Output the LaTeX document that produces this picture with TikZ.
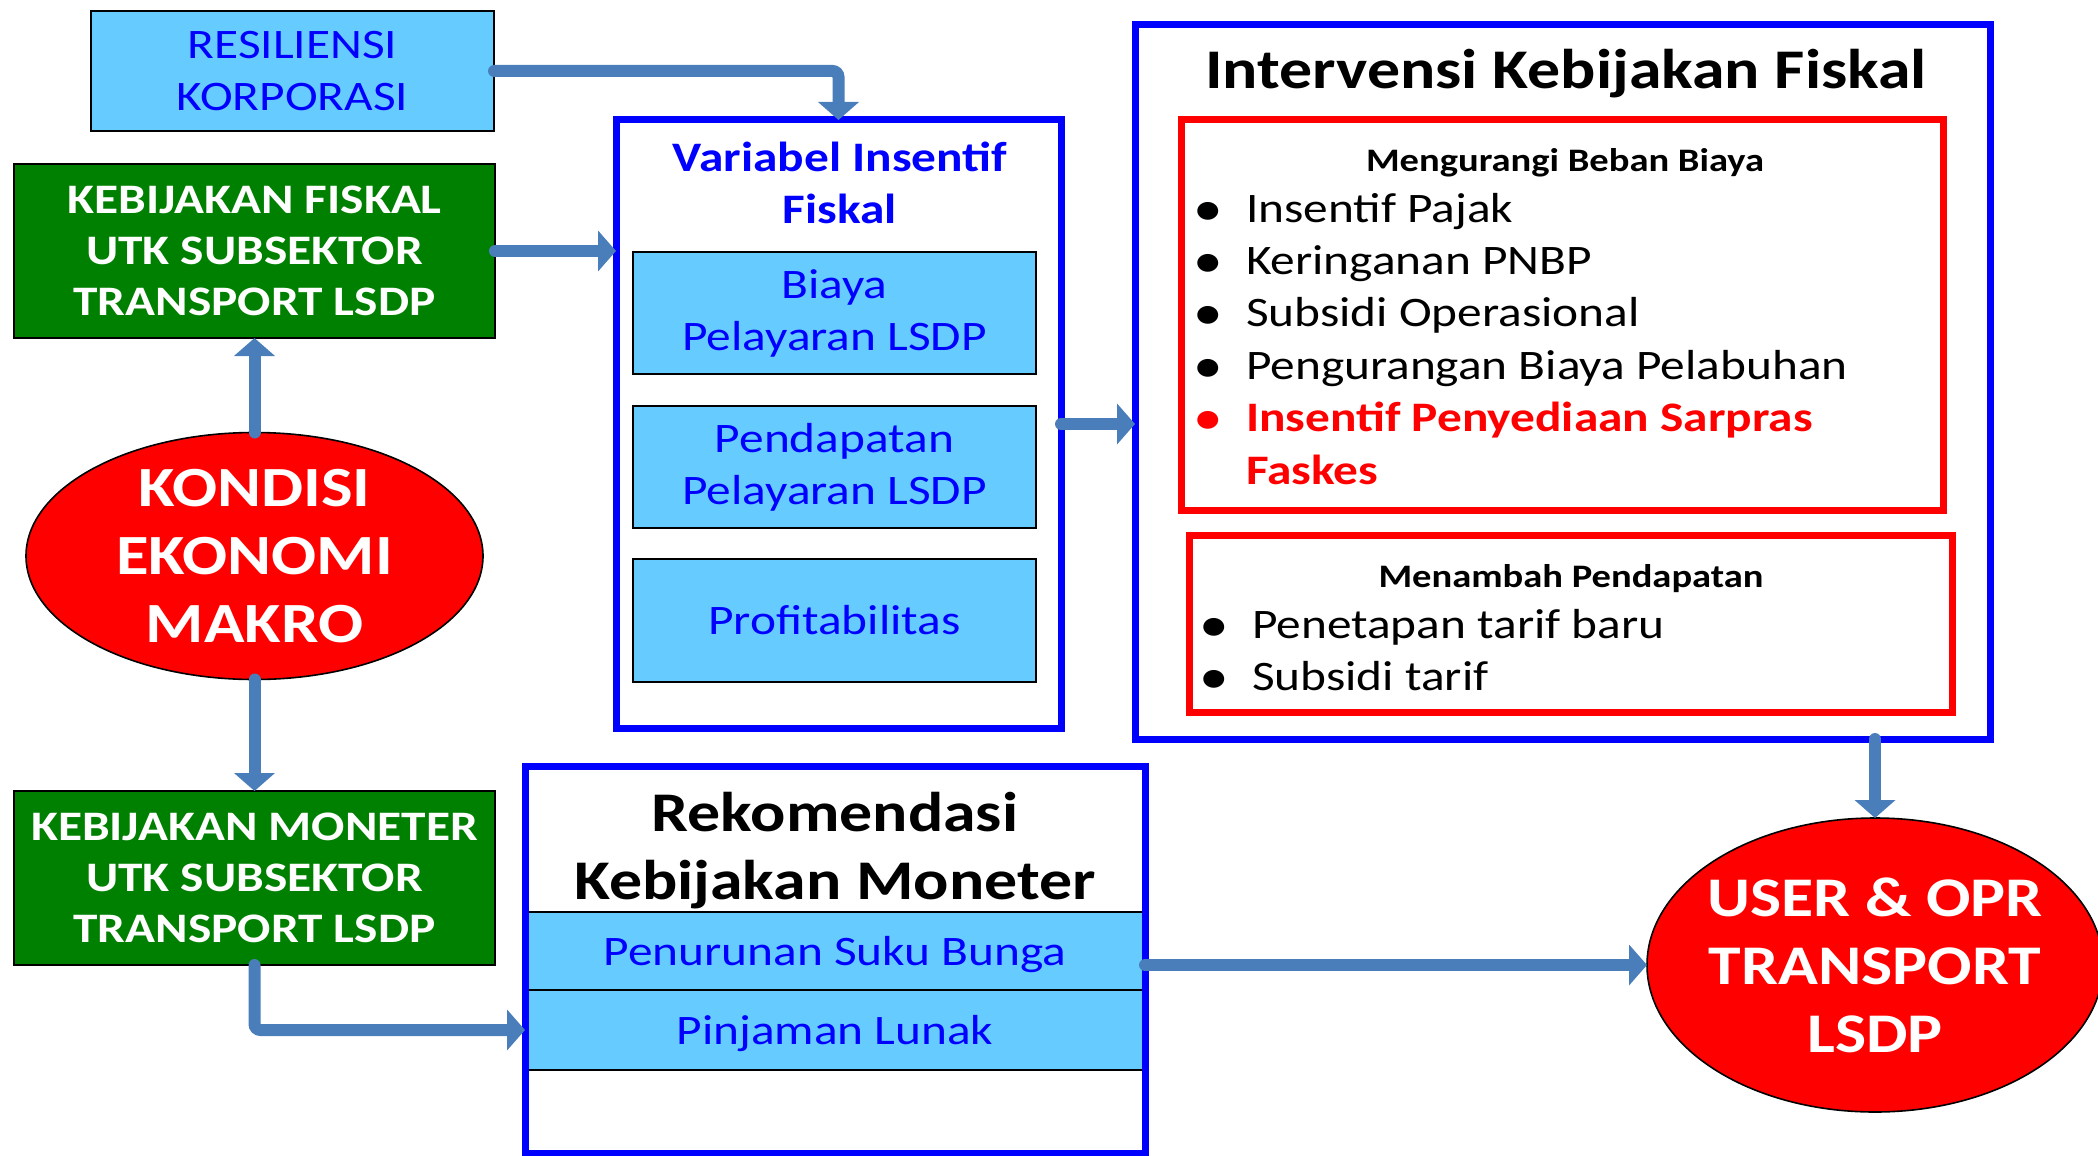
\documentclass[tikz,border=0pt]{standalone}
\usepackage{xcolor}
\usepackage{tikz}
\usepackage{fontspec}
\setmainfont{Carlito}[FakeStretch=1.175]
\usetikzlibrary{shapes.geometric, arrows.meta, positioning, calc}

\definecolor{skyfill}{RGB}{102,204,255}
\definecolor{boxgreen}{RGB}{0,128,0}
\definecolor{arrowblue}{RGB}{74,126,187}

\newcommand{\itembullet}{\makebox[23.5pt][l]{\hspace{-2.7pt}\raisebox{-1.5pt}{\scalebox{1.2}{\textbullet}}}}

\begin{document}
\begin{tikzpicture}[
    x=0.5pt, y=-0.5pt,
    every node/.style={outer sep=0pt},
    skybox/.style={rectangle, draw=black, line width=1pt, fill=skyfill, text=blue, align=center, inner sep=0pt, minimum width=201.5pt, font={\fontsize{21}{26}\selectfont}},
    greenbox/.style={rectangle, draw=black, line width=1pt, fill=boxgreen, text=white, align=center, inner sep=0pt, minimum width=240.5pt, minimum height=87pt, font={\bfseries\fontsize{21}{25.5}\selectfont}},
    bluebox/.style={rectangle, draw=blue, line width=3.5pt, inner sep=0pt},
    redbox/.style={rectangle, draw=red, line width=3.5pt, inner sep=0pt},
    oval/.style={ellipse, draw=black, line width=0.8pt, fill=red, inner sep=0pt},
    ovaltext/.style={text=white, align=center, inner sep=0pt, font={\bfseries\fontsize{28.4}{34}\selectfont}},
    heading/.style={anchor=base, inner sep=0pt, font={\bfseries\fontsize{16.4}{20}\selectfont}},
    itemlist/.style={anchor=base west, inner sep=0pt, font={\fontsize{21}{26.2}\selectfont}},
    arrow/.style={-{Triangle[width=20pt, length=9pt]}, line width=6pt, draw=arrowblue, line cap=round, rounded corners=3pt}
]
    \useasboundingbox (0,0) rectangle (2098,1156);

    \node[skybox, minimum height=60pt] (resil) at (292.5,71) {RESILIENSI\\KORPORASI};
    \node[greenbox] (fiskal) at (254.5,251) {KEBIJAKAN FISKAL\\UTK SUBSEKTOR\\TRANSPORT LSDP};
    \node[oval, minimum width=228.5pt, minimum height=123.5pt] (kondisi) at (254.5,556) {};
    \node[ovaltext] (kondisitext) at (kondisi) {KONDISI\\EKONOMI\\MAKRO};
    \node[greenbox] (moneter) at (254.5,878) {KEBIJAKAN MONETER\\UTK SUBSEKTOR\\TRANSPORT LSDP};

    \node[bluebox, minimum width=222.5pt, minimum height=304pt] (variabel) at (838.5,424) {};
    \node[text=blue, align=center, inner sep=0pt, font={\bfseries\fontsize{21}{26}\selectfont}] (variabeltitle) at (840,183) {Variabel Insentif\\Fiskal};
    \node[skybox, minimum height=61pt] (biaya) at (834.5,313) {Biaya\\Pelayaran LSDP};
    \node[skybox, minimum height=61pt, below=16pt of biaya] (pendapatan) {Pendapatan\\Pelayaran LSDP};
    \node[skybox, minimum height=61.5pt, below=15.5pt of pendapatan] (profit) {Profitabilitas};

    \node[bluebox, minimum width=427.5pt, minimum height=357pt] (intervensi) at (1562.5,382) {};
    \node[anchor=base, inner sep=0pt, font={\bfseries\fontsize{28}{34}\selectfont}] (intervensititle) at (1566,89) {Intervensi Kebijakan Fiskal};
    \node[redbox, minimum width=381pt, minimum height=195pt] (beban) at (1562,315) {};
    \node[heading] (bebantitle) at (1565,171) {Mengurangi Beban Biaya};
    \node[itemlist] (bebanlist) at (1199,222) {\begin{tabular}[t]{@{}l@{}l@{}}
        \itembullet & Insentif Pajak\\
        \itembullet & Keringanan PNBP\\
        \itembullet & Subsidi Operasional\\
        \itembullet & Pengurangan Biaya Pelabuhan\\
        \textcolor{red}{\itembullet} & \textcolor{red}{\bfseries Insentif Penyediaan Sarpras}\\
         & \textcolor{red}{\bfseries Faskes}
    \end{tabular}};
    \node[redbox, minimum width=381.5pt, minimum height=88.5pt] (tambah) at (1570.5,623.5) {};
    \node[heading] (tambahtitle) at (1571,587) {Menambah Pendapatan};
    \node[itemlist] (tambahlist) at (1205,638) {\begin{tabular}[t]{@{}l@{}l@{}}
        \itembullet & Penetapan tarif baru\\
        \itembullet & Subsidi tarif
    \end{tabular}};

    \node[skybox, text depth=0pt, minimum width=309pt, minimum height=39pt] (penurunan) at (835,951) {Penurunan Suku Bunga};
    \node[skybox, text depth=0pt, minimum width=309pt, minimum height=40pt, below=0pt of penurunan] (pinjaman) {Pinjaman Lunak};
    \node[bluebox, minimum width=310pt, minimum height=193.5pt] (rekom) at (835,959.5) {};
    \node[align=center, inner sep=0pt, font={\bfseries\fontsize{28}{34}\selectfont}] (rekomtitle) at (835,851) {Rekomendasi\\Kebijakan Moneter};

    \node[oval, minimum width=228pt, minimum height=147pt] (user) at (1875,965) {};
    \node[ovaltext, font={\bfseries\fontsize{28}{34}\selectfont}] (usertext) at (user) {USER \& OPR\\TRANSPORT\\LSDP};

    \draw[arrow] (resil.east) -| (variabel.north);
    \draw[arrow] (fiskal.east) -- (fiskal.east -| variabel.west);
    \draw[arrow] (kondisi.north) -- (fiskal.south);
    \draw[arrow] (kondisi.south) -- (moneter.north);
    \draw[arrow] (moneter.south) |- (pinjaman.west -| rekom.west);
    \draw[arrow] (variabel.east) -- (variabel.east -| intervensi.west);
    \draw[arrow] (user.north |- intervensi.south) -- (user.north);
    \draw[arrow] (user.west -| rekom.east) -- (user.west);
\end{tikzpicture}
\end{document}
